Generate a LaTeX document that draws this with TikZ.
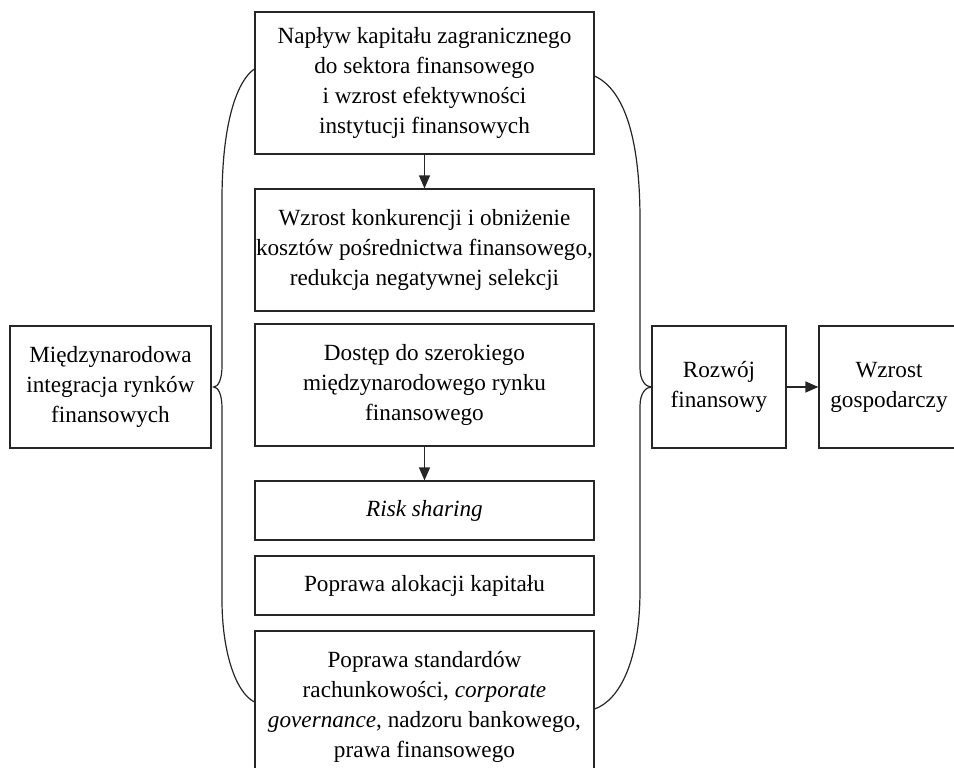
\documentclass[tikz,border=0pt]{standalone}
\usepackage{fontspec}
\setmainfont{Liberation Serif}
\usetikzlibrary{arrows.meta}
\begin{document}
\begin{tikzpicture}[x=0.5pt,y=-0.5pt,
    box/.style={draw=black!85,line width=0.6pt,align=center,inner sep=0pt,
      font=\fontsize{11.6}{15}\selectfont},
    arr/.style={draw=black!85,line width=0.6pt,-{Triangle[length=6.5pt,width=5.5pt]}},
    brace/.style={draw=black!85,line width=0.6pt}]
    \clip (0,0) rectangle (954,767);
    \node[box,minimum width=169.5pt,minimum height=71pt] (naplyw) at (424.5,83)
      {Napływ kapitału zagranicznego\\do sektora finansowego\\i wzrost efektywności\\instytucji finansowych};
    \node[box,minimum width=169.5pt,minimum height=61pt] (konkur) at (424.5,250)
      {Wzrost konkurencji i obniżenie\\kosztów pośrednictwa finansowego,\\redukcja negatywnej selekcji};
    \node[box,minimum width=169.5pt,minimum height=61pt] (dostep) at (424.5,385)
      {Dostęp do szerokiego\\międzynarodowego rynku\\finansowego};
    \node[box,minimum width=169.5pt,minimum height=29.5pt] (risk) at (424.5,510.5)
      {\itshape Risk sharing};
    \node[box,minimum width=169.5pt,minimum height=29.5pt] (alok) at (424.5,585.5)
      {Poprawa alokacji kapitału};
    \node[box,minimum width=169.5pt,minimum height=76pt] (standard) at (424.5,707)
      {Poprawa standardów\\rachunkowości, \textit{corporate}\\\textit{governance}, nadzoru bankowego,\\prawa finansowego};
    \node[box,minimum width=100.5pt,minimum height=61pt] (rynki) at (110.5,387)
      {Międzynarodowa\\integracja rynków\\finansowych};
    \node[box,minimum width=67pt,minimum height=61pt] (rozwoj) at (719,387)
      {Rozwój\\finansowy};
    \node[box,minimum width=70pt,minimum height=61pt] (wzrost) at (889,387)
      {Wzrost\\gospodarczy};
    \draw[arr] (naplyw) -- (konkur);
    \draw[arr] (dostep) -- (risk);
    \draw[arr] (rozwoj) -- (wzrost);
    % klamry
    \draw[brace] ([yshift=7pt]naplyw.west) .. controls (238,80) and (222,120) .. (222,200)
      -- (222,366) .. controls (222,380) and (218,387) .. ([xshift=1pt]rynki.east)
      .. controls (218,387) and (222,394) .. (222,408)
      -- (222,600) .. controls (222,650) and (235,692) .. ([yshift=2.5pt]standard.west);
    \draw[brace] ([yshift=3.5pt]naplyw.east) .. controls (625,90) and (640,140) .. (640,220)
      -- (640,368) .. controls (640,381) and (646,387) .. (rozwoj.west)
      .. controls (646,387) and (640,393) .. (640,406)
      -- (640,590) .. controls (640,660) and (620,700) .. ([yshift=-1pt]standard.east);
\end{tikzpicture}
\end{document}
